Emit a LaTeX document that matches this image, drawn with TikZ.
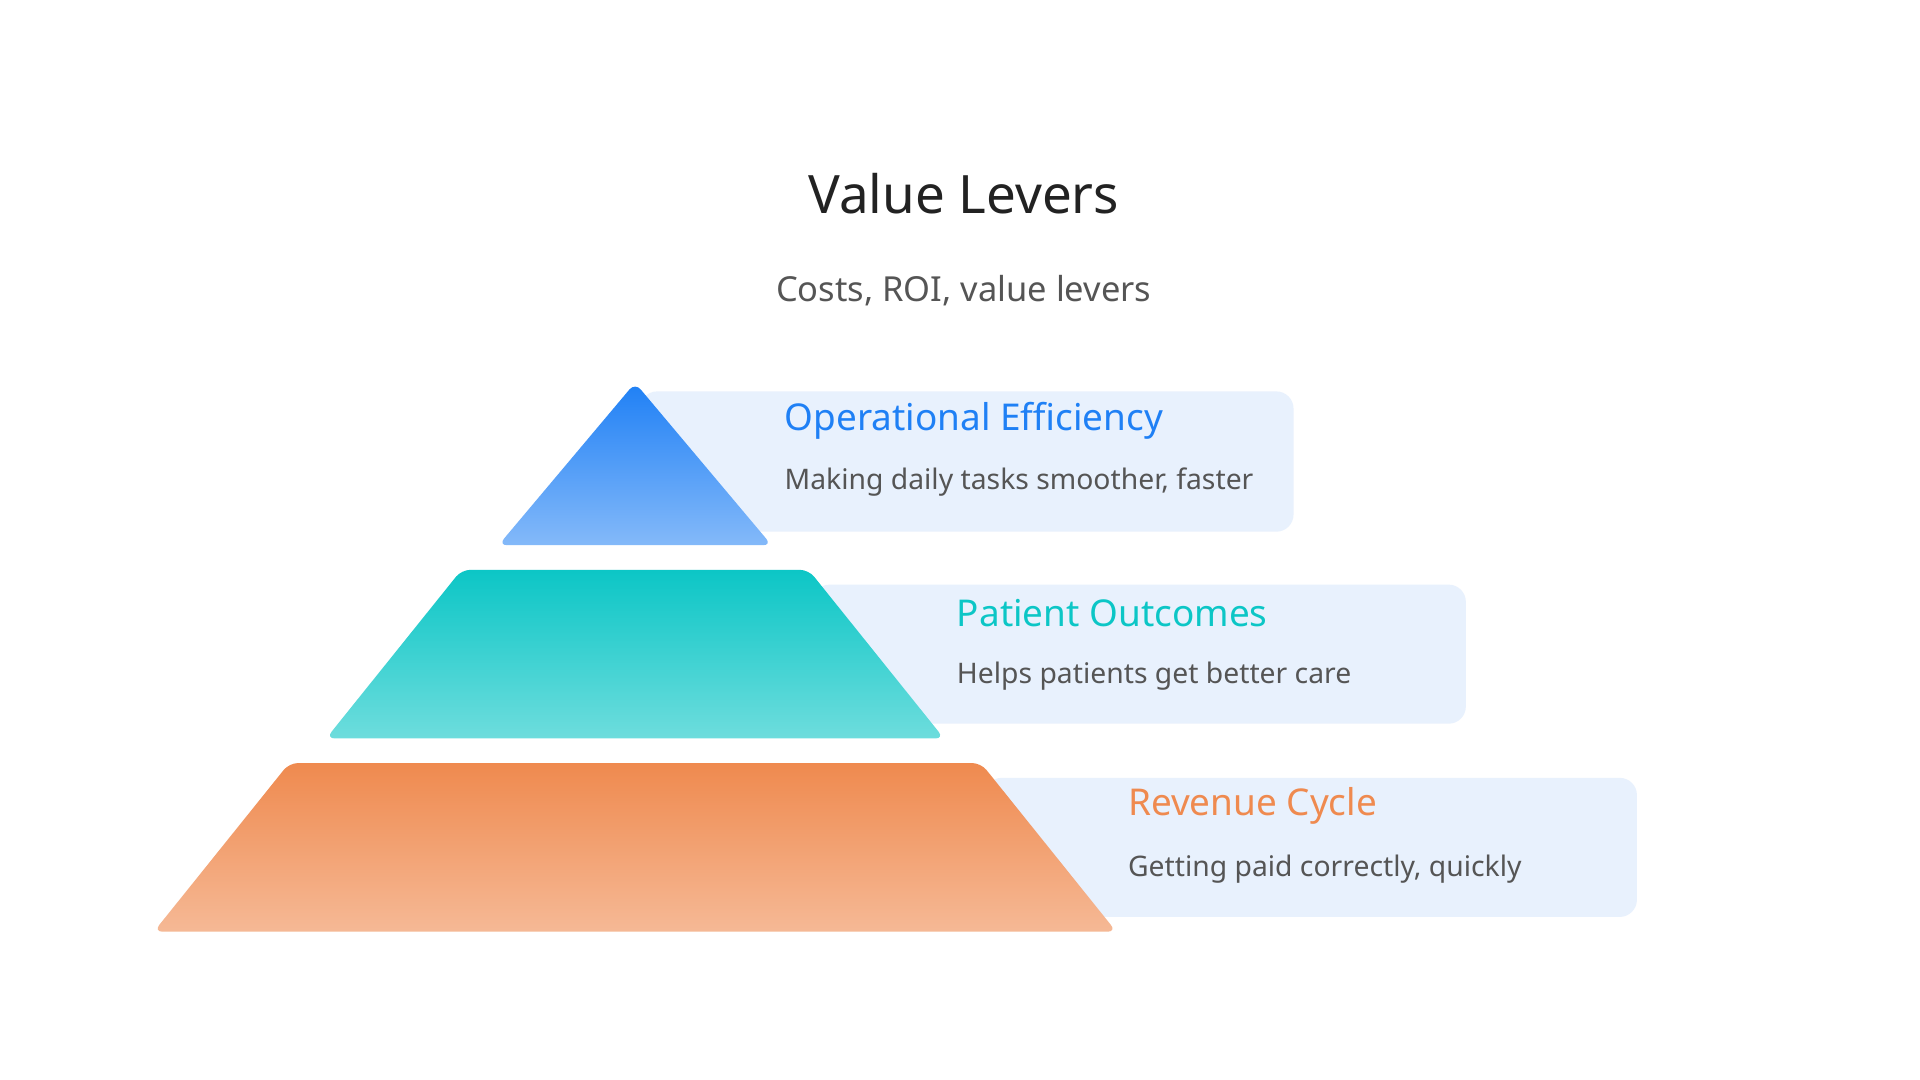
\documentclass[tikz,border=0pt]{standalone}
\usepackage{fontspec}
\setmainfont{Noto Sans}
\definecolor{panel}{HTML}{E8F1FD}
\definecolor{ttl}{HTML}{222222}
\definecolor{sub}{HTML}{555555}
\definecolor{cblue}{HTML}{1F80F5}
\definecolor{cteal}{HTML}{0CC6C6}
\definecolor{corange}{HTML}{EF8A4F}
\begin{document}
\begin{tikzpicture}[x=1pt,y=-1pt,
  panelbox/.style={fill=panel,rounded corners=14pt},
  head/.style={anchor=west,font=\bfseries\fontsize{30}{36}\selectfont},
  body/.style={anchor=west,text=sub,font=\fontsize{23}{28}\selectfont},
  layer/.style={rounded corners=7pt}]
\useasboundingbox[fill=white] (0,0) rectangle (1560,877.5);
\node[text=ttl,font=\fontsize{43}{50}\selectfont] (title) at (783,157) {Value Levers};
\node[text=sub,font=\fontsize{28}{34}\selectfont] (subtitle) at (783,236) {Costs, ROI, value levers};
% panels
\fill[panelbox] (520,318) rectangle (1051,432);
\fill[panelbox] (660,475) rectangle (1191,588);
\fill[panelbox] (800,632) rectangle (1330,745);
% layers
\shade[layer,top color=cblue,bottom color=cblue!55!white] (516,311) -- (627,443) -- (405,443) -- cycle;
\shade[layer,top color=cteal,bottom color=cteal!60!white] (375,463) -- (657,463) -- (767,600) -- (265,600) -- cycle;
\shade[layer,top color=corange,bottom color=corange!60!white] (235,620) -- (797,620) -- (907,757) -- (125,757) -- cycle;
% texts
\node[head,text=cblue] (h1) at (634,342) {Operational Efficiency};
\node[body] (b1) at (634,392) {Making daily tasks smoother, faster};
\node[head,text=cteal] (h2) at (774,498) {Patient Outcomes};
\node[body] (b2) at (774,549) {Helps patients get better care};
\node[head,text=corange] (h3) at (913,655) {Revenue Cycle};
\node[body] (b3) at (913,706) {Getting paid correctly, quickly};
\end{tikzpicture}
\end{document}
